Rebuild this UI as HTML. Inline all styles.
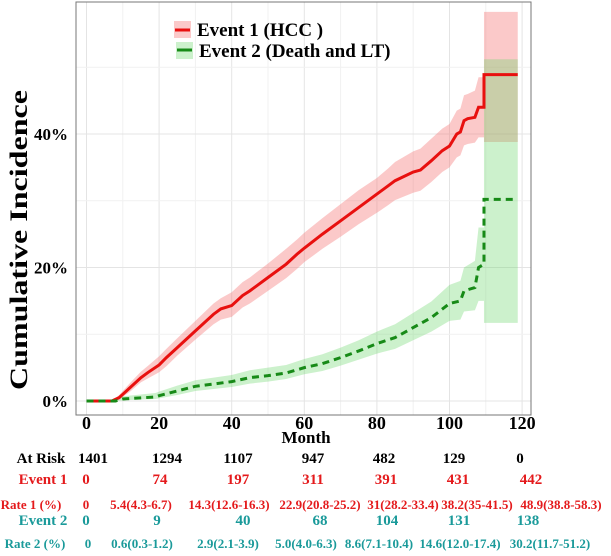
<!DOCTYPE html>
<html><head><meta charset="utf-8"><style>
body{margin:0;background:#fff;width:611px;height:551px;overflow:hidden;font-family:"Liberation Serif",serif;font-weight:bold}
svg text{font-family:"Liberation Serif",serif;font-weight:bold}
</style></head><body>
<svg id="c" width="611" height="551"></svg>
<script>
const redMonths=[0,7,9,10,12,15,17,20,22,25,30,35,37,40,43,45,50,55,58,60,65,70,75,80,83,85,90,92,95,98,100,102,103,104,105,107,108,109.5,109.5,118.8];
const redVals=[0,0,0.5,1,2,3.5,4.3,5.4,6.5,8,10.5,13,13.8,14.3,15.8,16.5,18.5,20.5,22,22.9,25,27,29,31,32.2,33,34.3,34.6,36,37.5,38.2,40,40.3,42,42.3,42.5,44,44,48.9,48.9];
const redLo=[0,0,0.2,0.6,1.4,2.8,3.4,4.3,5.2,6.8,9.2,11.5,12.2,12.6,14,14.6,16.5,18.4,19.8,20.8,22.8,24.6,26.5,28.2,29.3,30.1,31.2,31.5,32.8,34.3,35,36.5,36.8,38.3,38.5,38.7,39.5,39.5,38.8,38.8];
const redHi=[0,0,0.9,1.5,2.7,4.4,5.3,6.7,7.8,9.4,12,14.6,15.4,16.3,17.8,18.5,20.6,22.8,24.2,25.2,27.4,29.5,31.6,33.4,34.8,35.8,37.4,37.8,39.3,40.8,41.5,43.5,43.8,45.8,46,46.5,48.5,48.5,58.3,58.3];
const grnMonths=[0,8,10,19,20,25,30,40,45,50,55,60,65,70,75,80,85,90,95,100,103,104,107,108,109.5,109.5,118.8];
const grnVals=[0,0,0.3,0.6,0.8,1.5,2.2,2.9,3.5,3.8,4.2,5.0,5.6,6.5,7.5,8.6,9.5,11,12.5,14.6,15,16.5,17,20,20.5,30.2,30.2];
const grnLo=[0,0,0.1,0.3,0.4,0.9,1.5,2.1,2.6,2.9,3.3,4.0,4.5,5.3,6.2,7.1,7.8,9.1,10.4,12.0,12.2,13.4,13.6,15,15,11.7,11.7];
const grnHi=[0,0,0.7,1.2,1.4,2.3,3.1,3.9,4.6,5.0,5.4,6.3,7.0,8.0,9.1,10.4,11.5,13.2,14.9,17.4,18,20,21,26,26,51.2,51.2];
const xTicks=[0,20,40,60,80,100,120];
const yTicks=[0,20,40];
const riskRow=["1401","1294","1107","947","482","129","0"];
const event1Row=["0","74","197","311","391","431","442"];
const rate1Row=["0","5.4(4.3-6.7)","14.3(12.6-16.3)","22.9(20.8-25.2)","31(28.2-33.4)","38.2(35-41.5)","48.9(38.8-58.3)"];
const event2Row=["0","9","40","68","104","131","138"];
const rate2Row=["0","0.6(0.3-1.2)","2.9(2.1-3.9)","5.0(4.0-6.3)","8.6(7.1-10.4)","14.6(12.0-17.4)","30.2(11.7-51.2)"];

const NS="http://www.w3.org/2000/svg";
const svg=document.getElementById('c');
const X=m=>86.5+m*3.63;
const Y=v=>401-v*6.675;
function el(tag,attrs,parent){const e=document.createElementNS(NS,tag);for(const k in attrs)e.setAttribute(k,attrs[k]);(parent||svg).appendChild(e);return e;}
function txt(s,x,y,size,fill,anchor,name){const t=el('text',{x:x,y:y,'font-size':size,fill:fill,'text-anchor':anchor||'middle'});t.textContent=s;


return t;}
for(let m=0;m<=120;m+=10){const l=el('line',{x1:X(m),x2:X(m),y1:2,y2:415,stroke:m%20?'#f1f1f1':'#e4e4e4','stroke-width':1});

}
for(let v=0;v<=60;v+=10){const y=Y(v);if(y<2)continue;const l=el('line',{x1:76,x2:531,y1:y,y2:y,stroke:v%20?'#f1f1f1':'#e4e4e4','stroke-width':1});

}
function pts(ms,vs){return ms.map((m,i)=>[X(m),Y(vs[i])]);}
function band(ms,lo,hi,fill,name){const a=pts(ms,hi),b=pts(ms,lo).reverse();const p=a.concat(b).map(q=>q.join(',')).join(' ');
const pg=el('polygon',{points:p,fill:fill});

}
function line(ms,vs,stroke,dash,name){const p=pts(ms,vs).map(q=>q.join(',')).join(' ');
const pl=el('polyline',{points:p,fill:'none',stroke:stroke,'stroke-width':3,'stroke-dasharray':dash||'none'});

}
band(redMonths,redLo,redHi,'rgba(245,120,120,0.4)','event1-ci-band');
band(grnMonths,grnLo,grnHi,'rgba(110,215,110,0.35)','event2-ci-band');
line(redMonths,redVals,'#e8100f',null,'event1-line');
line(grnMonths,grnVals,'#178a17','7,5','event2-line');
const fr=el('rect',{x:76,y:2,width:455,height:413,fill:'none',stroke:'#777','stroke-width':1});


xTicks.forEach(m=>{txt(String(m),X(m),429,18,'#000','middle','x-tick-label');});
yTicks.forEach(v=>{txt(v+'%',68,Y(v)+6,17,'#000','end','y-tick-label');});
txt('Month',306,443,17,'#000','middle','x-axis-title');
const yt=txt('Cumulative Incidence',0,0,25,'#000','middle','y-axis-title');yt.setAttribute('transform','translate(27,240) rotate(-90)');yt.setAttribute('textLength','300');yt.setAttribute('lengthAdjust','spacingAndGlyphs');
const lg=el('g',{});
el('rect',{x:174,y:21,width:17,height:17,fill:'rgba(245,120,120,0.4)'},lg);
el('line',{x1:175,x2:190,y1:30,y2:30,stroke:'#e8100f','stroke-width':3},lg);
el('rect',{x:176,y:42,width:17,height:17,fill:'rgba(110,215,110,0.35)'},lg);
el('line',{x1:177,x2:192,y1:50,y2:50,stroke:'#178a17','stroke-width':3},lg);
txt('Event 1 (HCC )',197,36,19,'#000','start','legend-event1');
txt('Event  2 (Death and LT)',199,57,19,'#000','start','legend-event2');
const cols=[93,167,238,313,384,454,520];
const e1=[86,160,238,313,386,458,531],r1=[86,141,229,320,403,477,561],e2=[86,157,243,320,387,459,528],r2=[88,142,228,306,379,460,550];
const red='#e41a1c',teal='#1a9a9a';
txt('At Risk',41,463,15,'#000','middle','at-risk-label');
txt('Event 1',43,484,15,red,'middle','event1-label');
txt('Rate 1 (%)',31,509,13,red,'middle','rate1-label');
txt('Event 2',43,525,15,teal,'middle','event2-label');
txt('Rate 2 (%)',35,548,13,teal,'middle','rate2-label');
riskRow.forEach((s,i)=>txt(s,cols[i],463,15,'#000','middle','at-risk-value'));
event1Row.forEach((s,i)=>txt(s,e1[i],484,15,red,'middle','event1-value'));
rate1Row.forEach((s,i)=>txt(s,r1[i],509,13,red,'middle','rate1-value'));
event2Row.forEach((s,i)=>txt(s,e2[i],525,15,teal,'middle','event2-value'));
rate2Row.forEach((s,i)=>txt(s,r2[i],548,13,teal,'middle','rate2-value'));
</script>
</body></html>
